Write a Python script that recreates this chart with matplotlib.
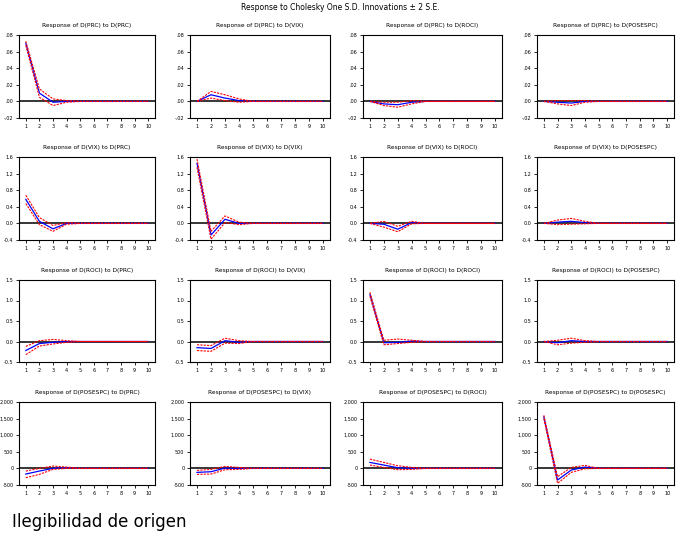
import matplotlib
matplotlib.use("Agg")
import matplotlib.pyplot as plt
import numpy as np

periods = list(range(1, 11))
variables = ["PRC", "VIX", "ROCI", "POSESPC"]

# responses[row][col]: (response, upper, lower) for periods 1..10
resp = {
 (0, 0): ([0.070, 0.010, -0.001, 0.000, 0, 0, 0, 0, 0, 0],
          [0.0725, 0.015, 0.003, 0.001, 0, 0, 0, 0, 0, 0],
          [0.0675, 0.005, -0.005, -0.001, 0, 0, 0, 0, 0, 0]),
 (0, 1): ([0.0, 0.008, 0.004, 0.001, 0, 0, 0, 0, 0, 0],
          [0.0, 0.012, 0.008, 0.003, 0, 0, 0, 0, 0, 0],
          [0.0, 0.004, 0.001, -0.001, 0, 0, 0, 0, 0, 0]),
 (0, 2): ([0.0, -0.003, -0.004, -0.001, 0, 0, 0, 0, 0, 0],
          [0.0, -0.001, -0.001, 0.001, 0, 0, 0, 0, 0, 0],
          [0.0, -0.005, -0.007, -0.003, 0, 0, 0, 0, 0, 0]),
 (0, 3): ([0.0, -0.001, -0.002, 0.0, 0, 0, 0, 0, 0, 0],
          [0.0, 0.001, 0.001, 0.001, 0, 0, 0, 0, 0, 0],
          [0.0, -0.003, -0.005, -0.001, 0, 0, 0, 0, 0, 0]),
 (1, 0): ([0.58, 0.05, -0.13, 0.0, 0, 0, 0, 0, 0, 0],
          [0.68, 0.14, -0.05, 0.02, 0, 0, 0, 0, 0, 0],
          [0.48, -0.03, -0.19, -0.02, 0, 0, 0, 0, 0, 0]),
 (1, 1): ([1.45, -0.28, 0.10, 0.0, 0, 0, 0, 0, 0, 0],
          [1.55, -0.19, 0.18, 0.03, 0, 0, 0, 0, 0, 0],
          [1.35, -0.38, 0.02, -0.03, 0, 0, 0, 0, 0, 0]),
 (1, 2): ([0.0, -0.02, -0.14, 0.02, 0, 0, 0, 0, 0, 0],
          [0.0, 0.05, -0.07, 0.05, 0, 0, 0, 0, 0, 0],
          [0.0, -0.09, -0.20, -0.01, 0, 0, 0, 0, 0, 0]),
 (1, 3): ([0.0, 0.03, 0.05, 0.02, 0, 0, 0, 0, 0, 0],
          [0.0, 0.08, 0.12, 0.05, 0, 0, 0, 0, 0, 0],
          [0.0, -0.03, -0.02, -0.01, 0, 0, 0, 0, 0, 0]),
 (2, 0): ([-0.22, -0.05, -0.02, 0.0, 0, 0, 0, 0, 0, 0],
          [-0.12, 0.02, 0.05, 0.02, 0, 0, 0, 0, 0, 0],
          [-0.32, -0.11, -0.06, -0.02, 0, 0, 0, 0, 0, 0]),
 (2, 1): ([-0.15, -0.17, 0.02, -0.02, 0, 0, 0, 0, 0, 0],
          [-0.08, -0.10, 0.08, 0.02, 0, 0, 0, 0, 0, 0],
          [-0.22, -0.24, -0.04, -0.05, 0, 0, 0, 0, 0, 0]),
 (2, 2): ([1.15, -0.03, -0.02, 0.01, 0, 0, 0, 0, 0, 0],
          [1.20, 0.03, 0.06, 0.03, 0, 0, 0, 0, 0, 0],
          [1.10, -0.08, -0.05, -0.02, 0, 0, 0, 0, 0, 0]),
 (2, 3): ([0.0, -0.03, 0.02, 0.0, 0, 0, 0, 0, 0, 0],
          [0.0, 0.03, 0.08, 0.02, 0, 0, 0, 0, 0, 0],
          [0.0, -0.08, -0.04, -0.02, 0, 0, 0, 0, 0, 0]),
 (3, 0): ([-170, -80, 0, 20, 0, 0, 0, 0, 0, 0],
          [-80, 0, 70, 40, 0, 0, 0, 0, 0, 0],
          [-280, -180, -30, 0, 0, 0, 0, 0, 0, 0]),
 (3, 1): ([-120, -100, 10, 0, 0, 0, 0, 0, 0, 0],
          [-60, -30, 60, 30, 0, 0, 0, 0, 0, 0],
          [-180, -170, -40, -30, 0, 0, 0, 0, 0, 0]),
 (3, 2): ([180, 100, 20, 0, 0, 0, 0, 0, 0, 0],
          [280, 180, 80, 30, 0, 0, 0, 0, 0, 0],
          [100, 30, -40, -30, 0, 0, 0, 0, 0, 0]),
 (3, 3): ([1550, -350, -50, 40, 0, 0, 0, 0, 0, 0],
          [1600, -250, 30, 90, 0, 0, 0, 0, 0, 0],
          [1500, -450, -120, -10, 0, 0, 0, 0, 0, 0]),
}

row_ylims = [(-0.02, 0.08), (-0.4, 1.6), (-0.5, 1.5), (-500, 2000)]
row_yticks = [[-0.02, 0.0, 0.02, 0.04, 0.06, 0.08],
              [-0.4, 0.0, 0.4, 0.8, 1.2, 1.6],
              [-0.5, 0.0, 0.5, 1.0, 1.5],
              [-500, 0, 500, 1000, 1500, 2000]]
row_ylabels = [["-.02", ".00", ".02", ".04", ".06", ".08"],
               ["-0.4", "0.0", "0.4", "0.8", "1.2", "1.6"],
               ["-0.5", "0.0", "0.5", "1.0", "1.5"],
               ["-500", "0", "500", "1,000", "1,500", "2,000"]]

W, H = 680, 535
fig = plt.figure(figsize=(W / 100, H / 100), dpi=100)
fig.patch.set_facecolor("white")

col_px = [(19, 155), (190, 330), (363, 502), (537, 674)]
row_px = [(35, 118), (157, 240), (280, 362), (402, 485)]

fig.text(0.5, 1 - 7 / H, "Response to Cholesky One S.D. Innovations \u00b1 2 S.E.",
         ha="center", va="center", fontsize=5.5)

for r in range(4):
    for c in range(4):
        x0, x1 = col_px[c]
        y0, y1 = row_px[r]
        ax = fig.add_axes([x0 / W, 1 - y1 / H, (x1 - x0) / W, (y1 - y0) / H])
        v, up, lo = resp[(r, c)]
        ax.axhline(0, color="black", lw=1.1, zorder=1)
        ax.plot(periods, v, color="blue", lw=0.9, zorder=3)
        ax.plot(periods, up, color="red", lw=0.8, ls=(0, (2, 1)), zorder=4)
        ax.plot(periods, lo, color="red", lw=0.8, ls=(0, (2, 1)), zorder=4)
        ax.set_xlim(0.5, 10.5)
        ax.set_ylim(*row_ylims[r])
        ax.set_xticks(periods)
        ax.set_xticklabels([str(p) for p in periods])
        ax.set_yticks(row_yticks[r])
        ax.set_yticklabels(row_ylabels[r])
        ax.tick_params(labelsize=3.5, length=2, width=0.6, pad=2)
        for s in ax.spines.values():
            s.set_linewidth(0.8)
        ax.set_title("Response of D(%s) to D(%s)" % (variables[r], variables[c]),
                     fontsize=4.2, pad=6)

fig.text(12 / W, 1 - 522 / H, "Ilegibilidad de origen", ha="left", va="center",
         fontsize=12, family="DejaVu Sans")

fig.savefig("out.png", dpi=100, facecolor="white")
